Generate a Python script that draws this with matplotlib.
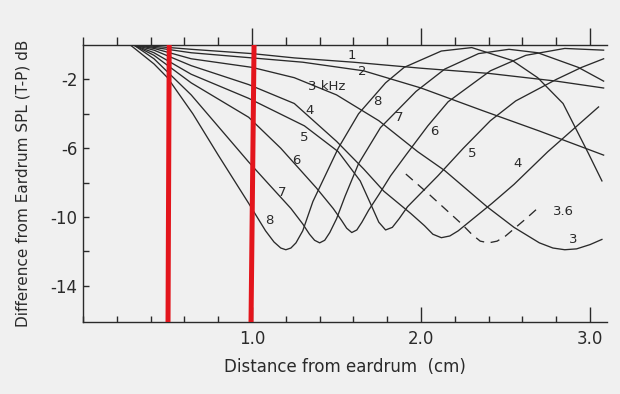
import matplotlib.pyplot as plt
from matplotlib.ticker import FixedLocator, MultipleLocator

# distance from eardrum (cm) vs level difference T-P (dB)
x_1k = [0.32, 0.64, 1.0, 1.25, 1.6, 2.0, 2.4, 2.8, 3.08]
y_1k = [0.0, -0.25, -0.5, -0.75, -1.0, -1.35, -1.65, -2.1, -2.5]

x_2k = [0.32, 0.64, 1.0, 1.3, 1.66, 2.0, 2.36, 2.7, 3.08]
y_2k = [0.0, -0.45, -0.75, -1.0, -1.5, -2.5, -3.8, -5.0, -6.4]

x_3k = [0.3, 0.42, 0.64, 1.0, 1.25, 1.5, 1.75, 1.98, 2.14, 2.39, 2.55, 2.70, 2.78, 2.85, 2.92, 3.0, 3.07]
y_3k = [0.0, -0.2, -0.8, -1.3, -1.9, -2.9, -4.4, -6.2, -7.3, -9.4, -10.6, -11.5, -11.8, -11.9, -11.85, -11.6, -11.3]

x_36k = [1.91, 2.05, 2.24, 2.30, 2.35, 2.40, 2.45, 2.50, 2.56, 2.62, 2.70]
y_36k = [-7.5, -8.7, -10.4, -11.0, -11.4, -11.5, -11.4, -11.1, -10.6, -10.1, -9.4]

x_4k = [0.3, 0.42, 0.64, 0.98, 1.25, 1.5, 1.66, 1.78, 1.94, 2.02, 2.07, 2.12, 2.17, 2.22, 2.27, 2.42, 2.55, 2.75, 3.05]
y_4k = [0.0, -0.3, -1.2, -2.3, -3.4, -5.6, -7.2, -8.5, -9.8, -10.5, -11.0, -11.2, -11.1, -10.8, -10.4, -9.2, -8.1, -6.2, -3.6]

x_5k = [0.3, 0.42, 0.64, 0.98, 1.31, 1.51, 1.64, 1.70, 1.75, 1.79, 1.83, 1.87, 1.92, 2.1, 2.25, 2.41, 2.56, 2.8, 2.95, 3.08]
y_5k = [0.0, -0.45, -1.7, -3.1, -4.7, -6.2, -7.9, -9.2, -10.3, -10.75, -10.6, -10.1, -9.4, -7.6, -6.0, -4.4, -3.25, -2.0, -1.3, -0.8]

x_6k = [0.3, 0.42, 0.64, 0.98, 1.17, 1.38, 1.48, 1.53, 1.56, 1.59, 1.62, 1.65, 1.69, 1.75, 1.82, 1.91, 2.04, 2.16, 2.41, 2.62, 2.85, 3.08]
y_6k = [0.0, -0.6, -2.2, -4.2, -6.0, -8.3, -9.5, -10.2, -10.65, -10.9, -10.75, -10.3, -9.6, -8.7, -7.6, -6.4, -4.7, -3.3, -1.5, -0.6, -0.2, -0.3]

x_7k = [0.3, 0.42, 0.64, 0.98, 1.10, 1.23, 1.30, 1.34, 1.37, 1.40, 1.43, 1.46, 1.50, 1.55, 1.63, 1.76, 1.97, 2.14, 2.34, 2.52, 2.69, 2.93, 3.08]
y_7k = [0.0, -0.8, -2.9, -6.8, -8.1, -9.5, -10.4, -11.0, -11.35, -11.5, -11.35, -10.9, -10.1, -8.8, -6.9, -4.8, -2.7, -1.4, -0.5, -0.25, -0.45, -1.3, -2.1]

x_8k = [0.28, 0.42, 0.50, 0.65, 0.80, 0.98, 1.08, 1.13, 1.17, 1.20, 1.23, 1.26, 1.30, 1.36, 1.51, 1.63, 1.79, 1.90, 2.12, 2.30, 2.54, 2.69, 2.84, 2.99, 3.07]
y_8k = [0.0, -1.1, -1.9, -4.0, -6.4, -9.2, -10.8, -11.45, -11.8, -11.9, -11.8, -11.5, -10.8, -9.1, -6.0, -4.0, -2.2, -1.3, -0.35, -0.15, -0.9, -1.9, -3.4, -6.3, -7.9]

# curve labels (text, x, y)
label_text = ["1", "2", "3 kHz", "4", "5", "6", "7", "8",
              "8", "7", "6", "5", "4", "3.6", "3"]
label_x = [1.59, 1.65, 1.44, 1.34, 1.31, 1.26, 1.18, 1.10,
           1.74, 1.87, 2.08, 2.30, 2.57, 2.84, 2.90]
label_y = [-0.6, -1.55, -2.4, -3.8, -5.4, -6.7, -8.6, -10.2,
           -3.3, -4.2, -5.05, -6.3, -6.9, -9.65, -11.3]

# hand-drawn red marks (x at top, x at bottom)
red_top = [0.51, 1.012]
red_bottom = [0.503, 0.994]

ytick_vals = [-14, -12, -10, -8, -6, -4, -2]
ytick_labels = ["-14", "", "-10", "", "-6", "", "-2"]
xtick_vals = [1.0, 2.0, 3.0]
xtick_labels = ["1.0", "2.0", "3.0"]

INK = "#2a2a2a"
PAPER = "#f0f0f0"

fig = plt.figure(figsize=(6.2, 3.94), dpi=100, facecolor=PAPER)
ax = fig.add_axes([83 / 620, 72 / 394, 524 / 620, 277 / 394])
ax.set_facecolor(PAPER)

curves = [(x_1k, y_1k), (x_2k, y_2k), (x_3k, y_3k), (x_4k, y_4k),
          (x_5k, y_5k), (x_6k, y_6k), (x_7k, y_7k), (x_8k, y_8k)]
for xs, ys in curves:
    ax.plot(xs, ys, color=INK, lw=0.95, solid_joinstyle="round")
ax.plot(x_36k, y_36k, color=INK, lw=0.95, linestyle=(0, (7, 5)))

for t, lx, ly in zip(label_text, label_x, label_y):
    ax.text(lx, ly, t, fontsize=9.5, color=INK, ha="center", va="center")

for xt, xb in zip(red_top, red_bottom):
    ax.plot([xt, xb], [0, -16.1], color="#e3151c", lw=3.6,
            solid_capstyle="butt", zorder=5)

ax.set_xlim(0, 3.1)
ax.set_ylim(-16.1, 0)

for side in ["right", "top"]:
    ax.spines[side].set_visible(False)
for side in ["left", "bottom"]:
    ax.spines[side].set_color(INK)
    ax.spines[side].set_linewidth(1.0)

ax.xaxis.set_major_locator(FixedLocator(xtick_vals))
ax.set_xticklabels(xtick_labels)
ax.xaxis.set_minor_locator(MultipleLocator(0.2))
ax.tick_params(axis="x", which="major", direction="in", length=11, width=1.0,
               color=INK, labelsize=12, labelcolor=INK, pad=6)
ax.tick_params(axis="x", which="minor", direction="in", length=4, width=1.0,
               color=INK)

ax.set_yticks(ytick_vals)
ax.set_yticklabels(ytick_labels)
ax.tick_params(axis="y", direction="in", length=4, width=1.0, color=INK,
               labelsize=12, labelcolor=INK, pad=4)

# top frame with outward ticks
top = ax.secondary_xaxis("top")
top.spines["top"].set_color(INK)
top.spines["top"].set_linewidth(1.0)
top.xaxis.set_major_locator(FixedLocator(xtick_vals))
top.xaxis.set_minor_locator(MultipleLocator(0.2))
top.tick_params(which="major", direction="out", length=12, width=1.0,
                color=INK, labeltop=False)
top.tick_params(which="minor", direction="out", length=6, width=1.0,
                color=INK)

ax.set_xlabel("Distance from eardrum  (cm)", fontsize=12, color=INK,
              labelpad=7)
ax.set_ylabel("Difference from Eardrum SPL (T-P) dB", fontsize=11,
              color=INK, labelpad=14)

fig.savefig("out.png", dpi=100, facecolor=PAPER)
